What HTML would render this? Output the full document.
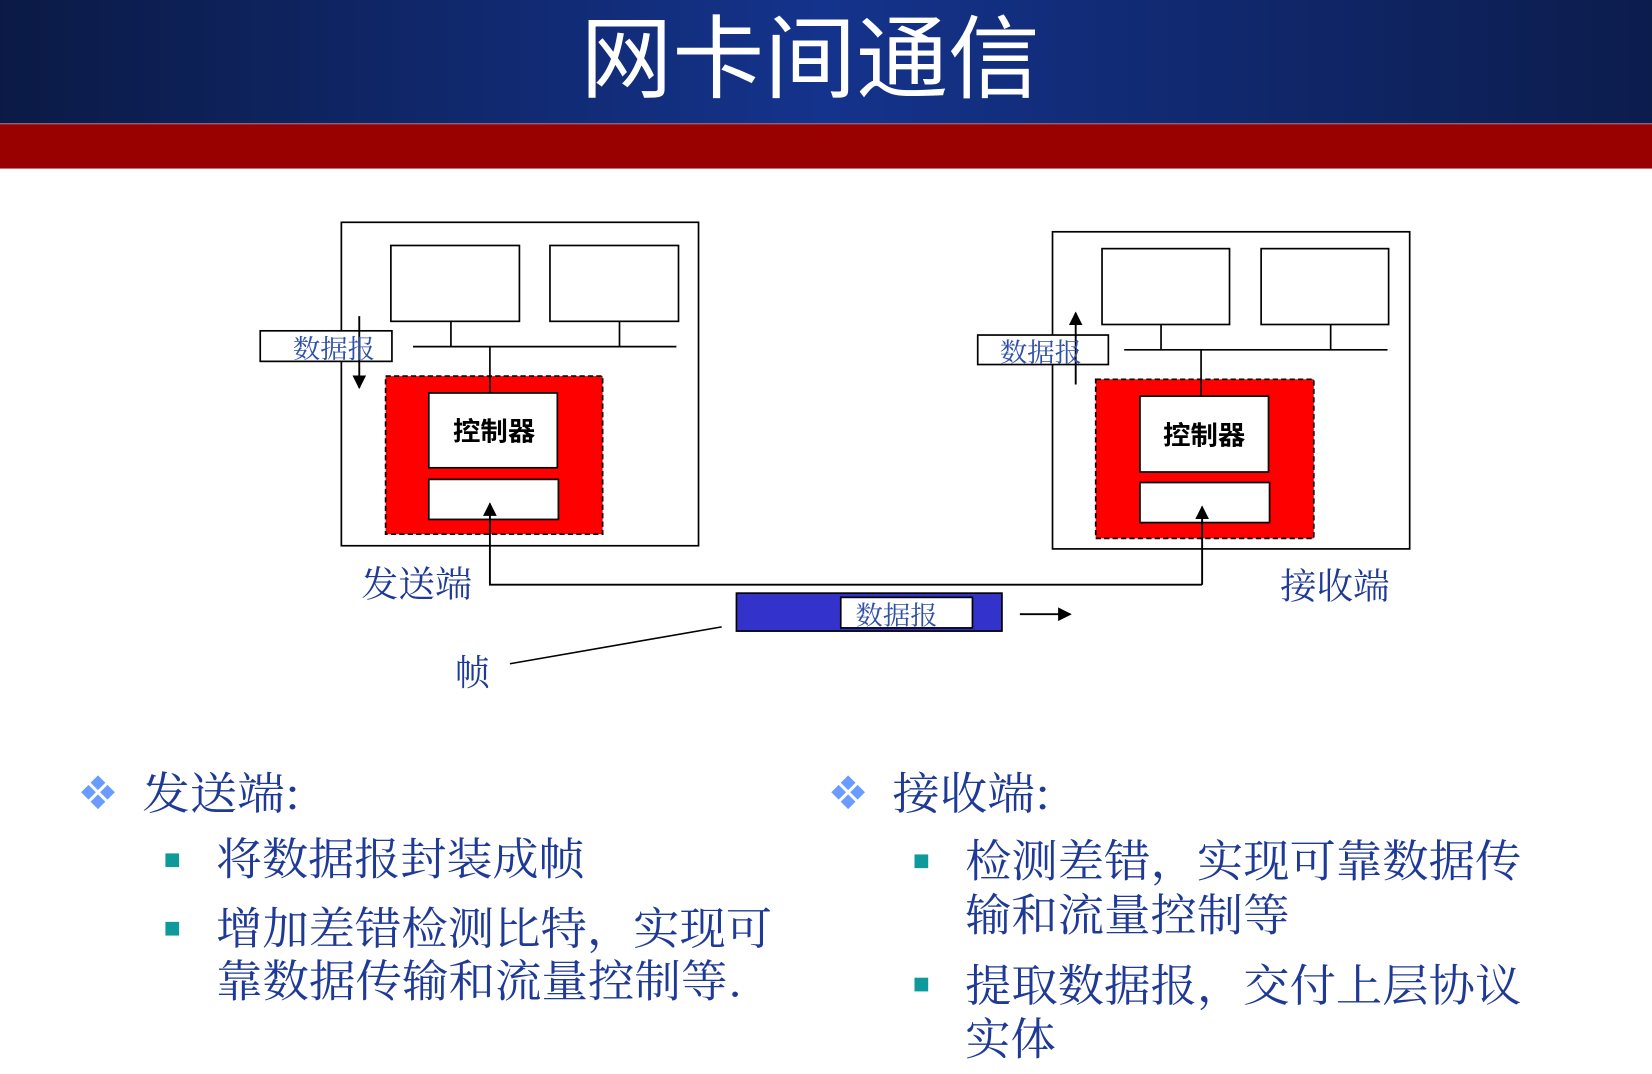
<!DOCTYPE html>
<html><head><meta charset="utf-8">
<style>
html,body{margin:0;padding:0;background:#fff;}
svg{display:block;}
</style></head>
<body>
<svg width="1652" height="1074" viewBox="0 0 1568 1019.4" preserveAspectRatio="none" xmlns="http://www.w3.org/2000/svg">
<defs>
<linearGradient id="hg" x1="0" x2="1" y1="0" y2="0">
<stop offset="0" stop-color="#0b1a45"/>
<stop offset="0.5" stop-color="#14338c"/>
<stop offset="1" stop-color="#0c1c4c"/>
</linearGradient>
<marker id="ah" viewBox="0 0 10 10" refX="9" refY="5" markerWidth="13" markerHeight="13" markerUnits="userSpaceOnUse" orient="auto">
<path d="M0,0 L10,5 L0,10 z" fill="#000"/>
</marker>
</defs>
<rect x="0" y="0" width="1568" height="117" fill="url(#hg)"/>
<rect x="0" y="117" width="1568" height="43" fill="#990000"/>
<line x1="0" y1="117.5" x2="1568" y2="117.5" stroke="#8a6a8a" stroke-width="1"/>
<text x="551" y="86" font-family="'Noto Sans CJK SC','WenQuanYi Zen Hei',sans-serif" font-size="86" fill="#fff" textLength="436" lengthAdjust="spacingAndGlyphs">网卡间通信</text>

<g stroke="#000" stroke-width="1.6" fill="#fff">
<rect x="324" y="211" width="339" height="307"/>
<rect x="371" y="233" width="122" height="72"/>
<rect x="522" y="233" width="122" height="72"/>
<line x1="428" y1="305" x2="428" y2="329"/>
<line x1="588" y1="305" x2="588" y2="329"/>
<line x1="392" y1="329" x2="642" y2="329"/>
<rect x="366" y="357" width="206" height="150" fill="#ff0000" stroke-dasharray="5,3"/>
<line x1="465" y1="329" x2="465" y2="373"/>
<rect x="407" y="373" width="122" height="71"/>
<rect x="407" y="455" width="123" height="38"/>
<rect x="247" y="314" width="125" height="29"/>
<rect x="999" y="220" width="339" height="301"/>
<rect x="1046" y="236" width="121" height="72"/>
<rect x="1197" y="236" width="121" height="72"/>
<line x1="1102" y1="308" x2="1102" y2="332"/>
<line x1="1263" y1="308" x2="1263" y2="332"/>
<line x1="1067" y1="332" x2="1317" y2="332"/>
<rect x="1040" y="360" width="207" height="151" fill="#ff0000" stroke-dasharray="5,3"/>
<line x1="1140" y1="332" x2="1140" y2="376"/>
<rect x="1082" y="376" width="122" height="72"/>
<rect x="1082" y="458" width="123" height="38"/>
<rect x="928" y="318" width="124" height="28"/>
<rect x="699" y="563" width="252" height="36" fill="#3333cc"/>
<rect x="798" y="567" width="125" height="29"/>
</g>
<g stroke="#000" stroke-width="1.8" fill="none">
<line x1="341" y1="300" x2="341" y2="368" marker-end="url(#ah)"/>
<line x1="1021" y1="365" x2="1021" y2="297" marker-end="url(#ah)"/>
<polyline points="1141,555 465,555 465,478" marker-end="url(#ah)"/>
<line x1="1141" y1="555" x2="1141" y2="481" marker-end="url(#ah)"/>
<line x1="968" y1="583" x2="1016" y2="583" marker-end="url(#ah)"/>
<line x1="484" y1="630" x2="685" y2="595" stroke-width="1.5"/>
</g>
<g font-family="'Noto Sans CJK SC','WenQuanYi Zen Hei',sans-serif" font-weight="bold" font-size="25" fill="#000">
<text x="430" y="418" textLength="78" lengthAdjust="spacingAndGlyphs">控制器</text>
<text x="1104" y="422" textLength="78" lengthAdjust="spacingAndGlyphs">控制器</text>
</g>
<g font-family="'Noto Serif CJK SC','Noto Sans CJK SC',serif" fill="#1f3a96">
<text x="278" y="340" font-size="25" fill="#3050a8" textLength="78" lengthAdjust="spacingAndGlyphs">数据报</text>
<text x="949" y="343" font-size="25" fill="#3050a8" textLength="78" lengthAdjust="spacingAndGlyphs">数据报</text>
<text x="812" y="593" font-size="25" fill="#3050a8" textLength="78" lengthAdjust="spacingAndGlyphs">数据报</text>
<text x="343" y="566" font-size="34" textLength="105" lengthAdjust="spacingAndGlyphs">发送端</text>
<text x="1215" y="568" font-size="34" textLength="104" lengthAdjust="spacingAndGlyphs">接收端</text>
<text x="432" y="650" font-size="34" textLength="33" lengthAdjust="spacingAndGlyphs">帧</text>

<text x="135" y="768" font-size="42" textLength="150" lengthAdjust="spacingAndGlyphs">发送端:</text>
<text x="205" y="830" font-size="42" textLength="350" lengthAdjust="spacingAndGlyphs">将数据报封装成帧</text>
<text x="205" y="896" font-size="42" textLength="528" lengthAdjust="spacingAndGlyphs">增加差错检测比特，实现可</text>
<text x="205" y="946" font-size="42" textLength="500" lengthAdjust="spacingAndGlyphs">靠数据传输和流量控制等.</text>

<text x="847" y="768" font-size="42" textLength="150" lengthAdjust="spacingAndGlyphs">接收端:</text>
<text x="916" y="832" font-size="42" textLength="528" lengthAdjust="spacingAndGlyphs">检测差错，实现可靠数据传</text>
<text x="916" y="883" font-size="42" textLength="308" lengthAdjust="spacingAndGlyphs">输和流量控制等</text>
<text x="916" y="950" font-size="42" textLength="528" lengthAdjust="spacingAndGlyphs">提取数据报，交付上层协议</text>
<text x="916" y="1001" font-size="42" textLength="86" lengthAdjust="spacingAndGlyphs">实体</text>
</g>
<g fill="#6a9cff">
<g transform="translate(93,752)">
<path d="M0,-16 L7,-9 L0,-2 L-7,-9z"/><path d="M0,16 L7,9 L0,2 L-7,9z"/><path d="M-16,0 L-9,-7 L-2,0 L-9,7z"/><path d="M16,0 L9,-7 L2,0 L9,7z"/>
</g>
<g transform="translate(805,752)">
<path d="M0,-16 L7,-9 L0,-2 L-7,-9z"/><path d="M0,16 L7,9 L0,2 L-7,9z"/><path d="M-16,0 L-9,-7 L-2,0 L-9,7z"/><path d="M16,0 L9,-7 L2,0 L9,7z"/>
</g>
</g>
<g fill="#0e9a9a">
<rect x="157" y="810" width="13" height="13"/>
<rect x="157" y="875" width="13" height="13"/>
<rect x="868" y="811" width="13" height="13"/>
<rect x="868" y="928" width="13" height="13"/>
</g>
</svg>
</body></html>
